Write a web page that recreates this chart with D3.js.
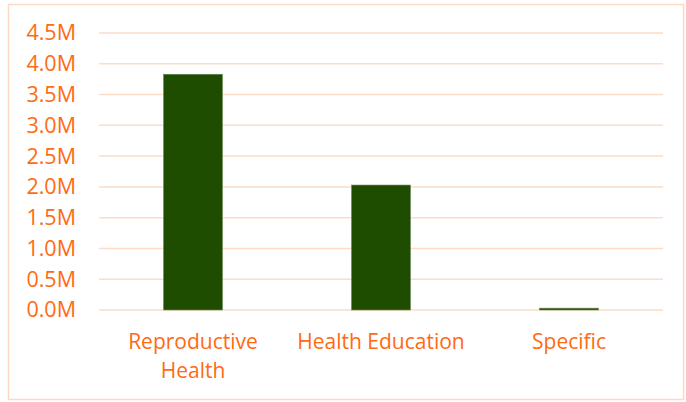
<!DOCTYPE html>
<html><head><meta charset="utf-8">
<script src="https://cdn.jsdelivr.net/npm/d3@7"></script>
<style>body{margin:0;background:#fff}svg{display:block}</style>
</head><body>
<script>
const categories = ["Reproductive Health", "Health Education", "Specific"];
const values = [3.83, 2.03, 0.03];
const tickValues = [0, 0.5, 1.0, 1.5, 2.0, 2.5, 3.0, 3.5, 4.0, 4.5];

const W = 686, H = 402;
const svg = d3.select("body").append("svg").attr("width", W).attr("height", H);
svg.append("rect").attr("x", 8.5).attr("y", 4.5).attr("width", 675).attr("height", 395)
  .attr("fill", "#fff").attr("stroke", "#FCD9C4").attr("stroke-width", 1.5);

const orange = "#FF6A13";
const x = d3.scaleBand().domain(categories).range([99, 663]).paddingInner(0.686).paddingOuter(0.343);
const y = d3.scaleLinear().domain([0, 4.5]).range([310, 33]);

const grid = svg.append("g");
grid.selectAll("line").data(tickValues).join("line")
  .attr("x1", 99).attr("x2", 663)
  .attr("y1", d => y(d)).attr("y2", d => y(d))
  .attr("stroke", "#FDDCC8").attr("stroke-width", 1.5);

const yAxis = d3.axisLeft(y).tickValues(tickValues).tickSize(0).tickPadding(0)
  .tickFormat(d => d3.format(".1f")(d) + "M");
const ga = svg.append("g").attr("transform", "translate(76,0)").call(yAxis);
ga.select(".domain").remove();
ga.selectAll("text").attr("fill", orange).style("font-family", "Open Sans").style("font-size", "21.5px");

svg.append("g").selectAll("rect").data(categories).join("rect")
  .attr("x", d => x(d)).attr("width", x.bandwidth())
  .attr("y", (d, i) => y(values[i])).attr("height", (d, i) => y(0) - y(values[i]))
  .attr("fill", "#1E4D00").attr("stroke", "#6E8A5A").attr("stroke-width", 0.6);

const labels = svg.append("g").selectAll("text").data(categories).join("text")
  .attr("x", d => x(d) + x.bandwidth() / 2).attr("y", 349)
  .attr("text-anchor", "middle").attr("fill", orange)
  .style("font-family", "Open Sans").style("font-size", "21px");
labels.each(function(d) {
  const t = d3.select(this);
  const parts = d === "Reproductive Health" ? ["Reproductive", "Health"] : [d];
  parts.forEach((p, i) => t.append("tspan").attr("x", x(d) + x.bandwidth() / 2).attr("dy", i ? 29 : 0).text(p));
});
</script>
</body></html>
